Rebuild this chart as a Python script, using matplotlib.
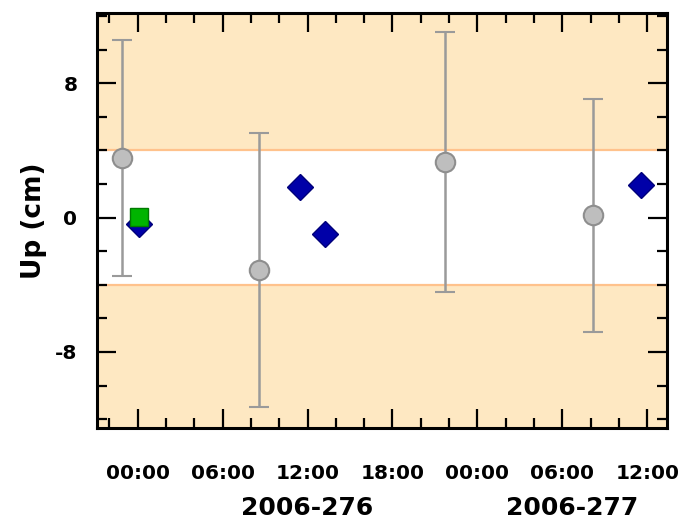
import matplotlib
matplotlib.use("Agg")
import matplotlib.pyplot as plt
from matplotlib.ticker import MultipleLocator, FuncFormatter

# ---- data (hours since 2006-276 00:00, Up in cm) ----
gps_hours = [-1.08, 8.57, 21.7, 32.2]
gps_up = [3.56, -3.12, 3.32, 0.14]
gps_err = [7.05, 8.15, 7.75, 6.95]

diamond_hours = [0.12, 11.45, 13.23, 35.54]
diamond_up = [-0.4, 1.81, -0.99, 1.95]

square_hours = [0.07]
square_up = [0.04]

band_limit = 4.0
xlim = (-2.9, 37.4)
ylim = (-12.55, 12.17)
day_names = ["2006-276", "2006-277"]
day_starts = [0, 24]

plt.rcParams['font.family'] = ['DejaVu Sans']
plt.rcParams['font.weight'] = 'bold'

fig = plt.figure(figsize=(6.8, 5.2), dpi=100)
ax = fig.add_axes([0.1422, 0.1763, 0.8387, 0.7981])

band_fill = "#FEE8C2"
band_line = "#FFC28C"
ax.axhspan(band_limit, 100, color=band_fill, zorder=0, lw=0)
ax.axhspan(-100, -band_limit, color=band_fill, zorder=0, lw=0)
ax.axhline(band_limit, color=band_line, lw=1.6, zorder=1)
ax.axhline(-band_limit, color=band_line, lw=1.6, zorder=1)

ax.errorbar(gps_hours, gps_up, yerr=gps_err, fmt='o', ms=14,
            mfc="#BEBEBE", mec="#8E8E8E", mew=1.5,
            ecolor="#9A9A9A", elinewidth=1.8, capsize=7, capthick=1.8,
            zorder=4)
ax.plot(diamond_hours, diamond_up, 'D', ms=13, mfc="#0000A8", mec="#00007A",
        mew=1.0, ls='none', zorder=3)
ax.plot(square_hours, square_up, 's', ms=13, mfc="#00B400", mec="#007A00",
        mew=1.0, ls='none', zorder=5)

ax.set_xlim(*xlim)
ax.set_ylim(*ylim)

ax.xaxis.set_major_locator(MultipleLocator(6))
ax.xaxis.set_minor_locator(MultipleLocator(2))
ax.yaxis.set_major_locator(MultipleLocator(8))
ax.yaxis.set_minor_locator(MultipleLocator(2))
ax.xaxis.set_major_formatter(FuncFormatter(lambda v, p: f"{int(round(v)) % 24:02d}:00"))
ax.yaxis.set_major_formatter(FuncFormatter(lambda v, p: f"{int(round(v))}"))

ax.tick_params(which='both', direction='in', top=True, right=True, width=1.6,
               color='black')
ax.tick_params(which='major', length=14)
ax.tick_params(which='minor', length=7)
ax.tick_params(axis='x', which='major', pad=26, labelsize=14.5)
ax.tick_params(axis='y', which='major', pad=14, labelsize=14.5)
for lab in ax.get_xticklabels() + ax.get_yticklabels():
    lab.set_fontweight('bold')

for s in ax.spines.values():
    s.set_linewidth(2.2)

ax.set_ylabel("Up (cm)", fontsize=19, fontweight='bold')
ax.yaxis.set_label_coords(-0.087, 0.5)

for name, start in zip(day_names, day_starts):
    lo = max(start, xlim[0])
    hi = min(start + 24, xlim[1])
    ax.annotate(name, xy=((lo + hi) / 2, 0), xycoords=('data', 'axes fraction'),
                xytext=(0, -49), textcoords='offset points',
                ha='center', va='top', fontsize=18, fontweight='bold',
                annotation_clip=False)

fig.savefig("out.png", dpi=100)
